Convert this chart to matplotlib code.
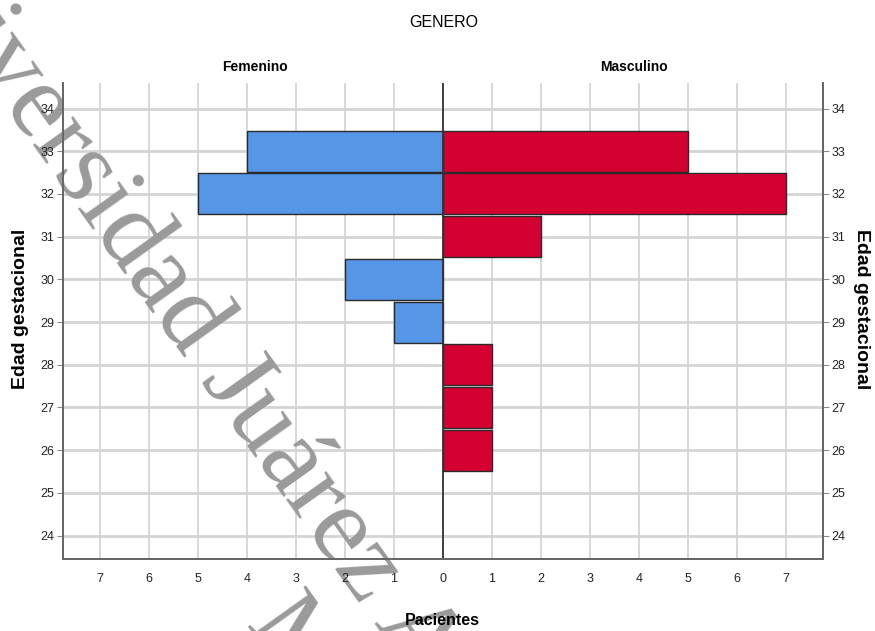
import matplotlib.pyplot as plt
import numpy as np

# datos
edad = [26, 27, 28, 29, 30, 31, 32, 33]
femenino = [0, 0, 0, 1, 2, 0, 5, 4]
masculino = [1, 1, 1, 0, 0, 2, 7, 5]
x_ticks = list(range(-7, 8))
y_ticks = list(range(24, 35))

sans = ['Liberation Sans', 'DejaVu Sans']

fig = plt.figure(figsize=(8.75, 6.31), dpi=100)
ax = fig.add_axes([0.072, 0.114, 0.8686, 0.7545])

grid_c = '#d4d4d4'
for v in x_ticks:
    ax.axvline(v, color=grid_c, lw=1.3, zorder=0)
for v in y_ticks:
    ax.axhline(v, color=grid_c, lw=2.0, zorder=0)

fem = np.array(femenino)
mas = np.array(masculino)
ax.barh(np.array(edad)[fem > 0], -fem[fem > 0], height=0.96, color='#5596e6',
        edgecolor='#2a2a2a', lw=1.0, zorder=2)
ax.barh(np.array(edad)[mas > 0], mas[mas > 0], height=0.96, color='#d50032',
        edgecolor='#2a2a2a', lw=1.0, zorder=2)
ax.axvline(0, color='#333333', lw=1.3, zorder=3)

ax.set_xlim(-7.75, 7.75)
ax.set_ylim(23.45, 34.6)
ax.set_xticks(x_ticks)
ax.set_xticklabels([str(abs(v)) for v in x_ticks], family=sans, fontsize=9)
ax.set_yticks(y_ticks)
ax.set_yticklabels([str(v) for v in y_ticks], family=sans, fontsize=9)
ax.tick_params(axis='x', length=0, pad=10, colors='#222222')
ax.tick_params(axis='y', length=4, color='#888888', pad=2, labelcolor='#222222')

ax2 = ax.twinx()
ax2.set_ylim(ax.get_ylim())
ax2.set_yticks(y_ticks)
ax2.set_yticklabels([str(v) for v in y_ticks], family=sans, fontsize=9)
ax2.tick_params(axis='y', length=4, color='#888888', pad=2, labelcolor='#222222')

for a in (ax, ax2):
    a.spines['top'].set_visible(False)
    for s in ('left', 'right', 'bottom'):
        a.spines[s].set_color('#666666')
        a.spines[s].set_linewidth(1.3)

fig.text(0.507, 0.965, 'GENERO', ha='center', va='center', family=sans, fontsize=11.5)
fig.text(0.291, 0.894, 'Femenino', ha='center', va='center', family=sans,
         fontsize=10, fontweight='bold')
fig.text(0.725, 0.894, 'Masculino', ha='center', va='center', family=sans,
         fontsize=10, fontweight='bold')
fig.text(0.506, 0.017, 'Pacientes', ha='center', va='center', family=sans,
         fontsize=11.5, fontweight='bold')
fig.text(0.023, 0.51, 'Edad gestacional', rotation=90, ha='center', va='center',
         family=sans, fontsize=14, fontweight='bold')
fig.text(0.985, 0.51, 'Edad gestacional', rotation=-90, ha='center', va='center',
         family=sans, fontsize=14, fontweight='bold')

# marca de agua (debajo de los ejes y textos)
ax.text(0.193, 0.538, 'Universidad Juárez A', rotation=-54.5, rotation_mode='anchor',
        ha='center', va='center', family='Liberation Serif', fontsize=78,
        color='#9a9a9a', transform=fig.transFigure, clip_on=False, zorder=1.2)
ax.text(0.335, -0.03, 'M', rotation=-54.5, rotation_mode='anchor', ha='center',
        va='center', family='Liberation Serif', fontsize=78, color='#9a9a9a',
        transform=fig.transFigure, clip_on=False, zorder=1.2)

fig.savefig('out.png', dpi=100)
